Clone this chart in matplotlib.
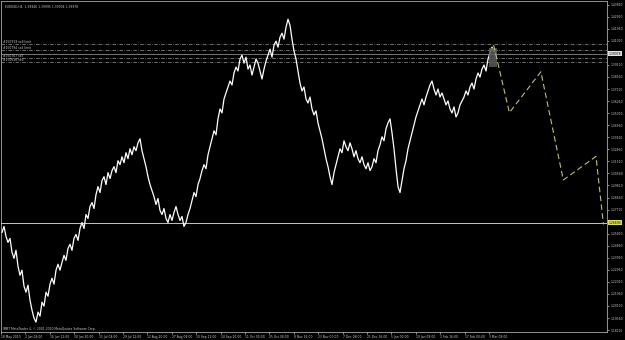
import numpy as np
import matplotlib.pyplot as plt
from matplotlib.patches import Rectangle

# screen scale of the chart: pixels per H4 bar
PX_PER_BAR = 0.3935

title = "EURUSD,H4  1.39946 1.39995 1.39904 1.39978"
copyright_text = "IMBT MetaTrader 4, © 2001-2010 MetaQuotes Software Corp."

# close prices, one every ~5 bars
close = [
  1.2591, 1.2638, 1.2559, 1.2512, 1.2544, 1.2434, 1.2387, 1.2450, 1.2324, 1.2253,
  1.2293, 1.2167, 1.2120, 1.2175, 1.2057, 1.1978, 1.1916, 1.1884, 1.1963, 1.1931,
  1.2041, 1.2010, 1.2120, 1.2088, 1.2183, 1.2230, 1.2183, 1.2293, 1.2340, 1.2293,
  1.2355, 1.2410, 1.2371, 1.2465, 1.2497, 1.2450, 1.2544, 1.2575, 1.2528, 1.2622,
  1.2669, 1.2622, 1.2732, 1.2701, 1.2795, 1.2826, 1.2779, 1.2889, 1.2952, 1.2905,
  1.2999, 1.3030, 1.2968, 1.3062, 1.3015, 1.3078, 1.3109, 1.3062, 1.3156, 1.3125,
  1.3187, 1.3140, 1.3219, 1.3172, 1.3250, 1.3203, 1.3266, 1.3235, 1.3297, 1.3329,
  1.3235, 1.3172, 1.3109, 1.3030, 1.2968, 1.2921, 1.2873, 1.2811, 1.2858, 1.2764,
  1.2732, 1.2779, 1.2701, 1.2669, 1.2732, 1.2685, 1.2748, 1.2795, 1.2732, 1.2685,
  1.2716, 1.2638, 1.2669, 1.2732, 1.2779, 1.2842, 1.2905, 1.2873, 1.2968, 1.3015,
  1.3078, 1.3125, 1.3093, 1.3203, 1.3266, 1.3329, 1.3392, 1.3360, 1.3486, 1.3564,
  1.3533, 1.3643, 1.3690, 1.3737, 1.3784, 1.3753, 1.3847, 1.3894, 1.3863, 1.3957,
  1.3988, 1.3925, 1.3972, 1.3878, 1.3910, 1.3831, 1.3894, 1.3957, 1.3925, 1.3863,
  1.3800, 1.3878, 1.3941, 1.3988, 1.4035, 1.3972, 1.4067, 1.4098, 1.4051, 1.4129,
  1.4161, 1.4114, 1.4208, 1.4271, 1.4224, 1.4114, 1.4020, 1.3957, 1.3863, 1.3768,
  1.3706, 1.3737, 1.3643, 1.3611, 1.3658, 1.3564, 1.3517, 1.3549, 1.3454, 1.3392,
  1.3329, 1.3250, 1.3172, 1.3109, 1.3030, 1.2968, 1.3062, 1.3125, 1.3187, 1.3250,
  1.3219, 1.3313, 1.3266, 1.3235, 1.3297, 1.3250, 1.3187, 1.3235, 1.3172, 1.3140,
  1.3187, 1.3125, 1.3093, 1.3140, 1.3078, 1.3109, 1.3172, 1.3140, 1.3235, 1.3282,
  1.3344, 1.3313, 1.3407, 1.3454, 1.3486, 1.3376, 1.3250, 1.3093, 1.2952, 1.2905,
  1.2999, 1.3093, 1.3156, 1.3250, 1.3313, 1.3376, 1.3439, 1.3501, 1.3549, 1.3596,
  1.3643, 1.3596, 1.3658, 1.3706, 1.3753, 1.3784, 1.3721, 1.3674, 1.3721, 1.3658,
  1.3690, 1.3643, 1.3596, 1.3627, 1.3564, 1.3533, 1.3580, 1.3501, 1.3533, 1.3596,
  1.3627, 1.3658, 1.3706, 1.3674, 1.3737, 1.3768, 1.3721, 1.3800, 1.3847, 1.3815,
  1.3878, 1.3910, 1.3863, 1.3957, 1.4004, 1.4051, 1.4020, 1.3996,
]

date_labels = [
  "18 May 2010", "2 Jun 04:00", "16 Jun 12:00", "30 Jun 20:00", "15 Jul 04:00",
  "29 Jul 12:00", "12 Aug 20:00", "27 Aug 04:00", "10 Sep 12:00", "24 Sep 20:00",
  "11 Oct 00:00", "25 Oct 08:00", "8 Nov 16:00", "23 Nov 00:00", "7 Dec 08:00",
  "21 Dec 16:00", "5 Jan 00:00", "19 Jan 08:00", "2 Feb 16:00", "17 Feb 00:00",
  "3 Mar 08:00",
]
BARS_PER_LABEL = 62

price_tick_first = 1.18210
price_tick_step = 0.0095
price_tick_count = 28

bid = 1.39978
order_prices = [1.4072, 1.4025, 1.3967, 1.3933]
order_names = ["#150919 sell limit", "#150794 sell limit", "#150767 sell", "#150616 sell"]

hline_price = 1.2669

box_bars = [1240, 1260]
box_prices = [1.3894, 1.4043]

proj_bars = [1252, 1292, 1372, 1429, 1512, 1531]
proj_prices = [1.4067, 1.3535, 1.3857, 1.3004, 1.3190, 1.2654]

TXT = '#c8c8c8'
AXC = '#a8a8a8'
FS = 2.2


def plot_chart():
  fig = plt.figure(figsize=(6.25, 3.4), dpi=100, facecolor='black')
  ax = fig.add_axes([0.0016, 8 / 340, 606 / 625, 1 - 8 / 340 - 0.004])
  ax.set_facecolor('black')

  ax.set_xlim(0, 606 / PX_PER_BAR)
  ax.set_ylim(1.1806, 1.4412)

  for s in ax.spines.values():
    s.set_color(AXC)
    s.set_linewidth(0.6)

  # price
  close_x = (1 + 2 * np.arange(len(close))) / PX_PER_BAR
  ax.plot(close_x, close, color='white', lw=0.9, zorder=4)

  # order lines and bid line
  for p, name in zip(order_prices, order_names):
    ax.axhline(p, color='#9a9a9a', lw=0.5, ls=(0, (5, 2, 1, 2)), zorder=3)
    ax.text(2 / PX_PER_BAR, p, name, color=TXT, fontsize=FS, va='bottom', zorder=5)
  ax.axhline(bid, color='#8a8a8a', lw=0.6, zorder=3)

  # horizontal line and projection
  ax.axhline(hline_price, color='#d2d25a', lw=0.7, zorder=3)
  ax.plot(proj_bars, proj_prices, color='#c0c068', lw=0.8, ls=(0, (5, 3)), zorder=5)

  ax.add_patch(Rectangle((box_bars[0], box_prices[0]), box_bars[1] - box_bars[0],
                         box_prices[1] - box_prices[0], facecolor='#5a5a5a',
                         edgecolor='none', alpha=0.85, zorder=4.5))

  # x axis dates
  ax.set_xticks(np.arange(len(date_labels)) * BARS_PER_LABEL)
  ax.set_xticklabels(date_labels)
  for lab in ax.get_xticklabels():
    lab.set_horizontalalignment('left')
  ax.tick_params(axis='x', colors=TXT, labelsize=FS, length=1.5, width=0.5, pad=0.6)

  # y axis prices on the right, labels under the highlighted prices are hidden
  ticks = price_tick_first + price_tick_step * np.arange(price_tick_count)
  labels = []
  for t in ticks:
    if abs(t - bid) < 0.004 or abs(t - hline_price) < 0.004:
      labels.append('')
    else:
      labels.append("%.5f" % t)
  ax.yaxis.tick_right()
  ax.set_yticks(ticks)
  ax.set_yticklabels(labels)
  ax.tick_params(axis='y', colors=TXT, labelsize=FS, length=1.5, width=0.5, pad=0.8)

  # highlighted price labels
  ax.text(1.003, bid, "%.5f" % bid, transform=ax.get_yaxis_transform(), fontsize=FS,
          color='black', va='center', ha='left', zorder=6, clip_on=False,
          bbox=dict(boxstyle='square,pad=0.15', fc='#e0e0e0', ec='none'))
  ax.text(1.003, hline_price, "%.5f" % hline_price, transform=ax.get_yaxis_transform(),
          fontsize=FS, color='black', va='center', ha='left', zorder=6, clip_on=False,
          bbox=dict(boxstyle='square,pad=0.15', fc='#e0e050', ec='none'))

  ax.text(0.006, 0.988, title, transform=ax.transAxes, color=TXT, fontsize=FS, va='top')
  ax.text(0.003, 0.004, copyright_text, transform=ax.transAxes, color=TXT, fontsize=FS,
          va='bottom')

  fig.savefig('out.png', dpi=100, facecolor='black')


plot_chart()
